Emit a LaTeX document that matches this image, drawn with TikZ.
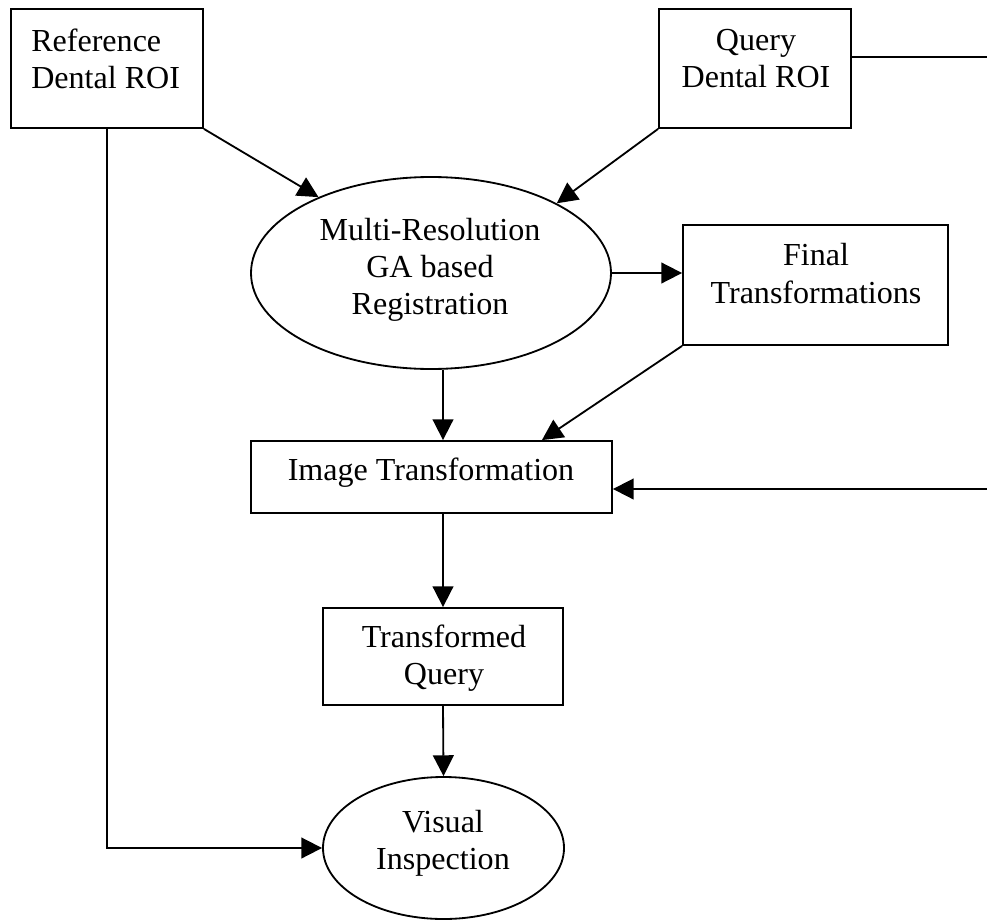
\documentclass[tikz,border=0pt]{standalone}
\usepackage{fontspec}
\setmainfont{Liberation Serif}
\usetikzlibrary{arrows.meta,shapes.geometric}
\begin{document}
\begin{tikzpicture}[x=0.025cm,y=-0.025cm,
  box/.style={draw,line width=1.3pt,inner sep=0pt},
  oval/.style={draw,ellipse,line width=1.3pt,inner sep=0pt},
  lbl/.style={inner sep=0pt,align=center,font=\fontsize{22.8}{26.4}\selectfont},
  conn/.style={line width=1.3pt},
  arr/.style={conn,-{Triangle[length=0.52cm,width=0.52cm]}}]
\useasboundingbox (0,0) rectangle (987,920);

% shapes
\node[box,minimum width=192*0.025cm,minimum height=119*0.025cm] (ref) at (107,68.5) {};
\node[box,minimum width=192*0.025cm,minimum height=119*0.025cm] (qry) at (755,68.5) {};
\node[oval,minimum width=360*0.025cm,minimum height=192*0.025cm] (ell) at (431,273) {};
\node[box,minimum width=265*0.025cm,minimum height=120*0.025cm] (fin) at (815.5,285) {};
\node[box,minimum width=361*0.025cm,minimum height=72*0.025cm] (it) at (431.5,477) {};
\node[box,minimum width=240*0.025cm,minimum height=97*0.025cm] (tq) at (443,656.5) {};
\node[oval,minimum width=241*0.025cm,minimum height=142*0.025cm] (vis) at (443.5,848) {};

% texts
\node[lbl,align=left,anchor=west] (reft) at (31,58.5) {Reference\\Dental ROI};
\node[lbl] (qryt) at (756,58.5) {Query\\Dental ROI};
\node[lbl] (ellt) at (430,270) {Multi-Resolution\\GA based\\Registration};
\node[lbl] (fint) at (816,273.5) {Final\\Transformations};
\node[lbl] (itt) at (431,473) {Image Transformation};
\node[lbl] (tqt) at (444,658) {Transformed\\Query};
\node[lbl] (vist) at (443,843) {Visual\\Inspection};

% connectors
\draw[arr] (ref.south east) -- (ell.146);
\draw[arr] (qry.south west) -- (ell.29);
\draw[arr] (ell.east) -- (ell.east -| fin.west);
\draw[arr] (fin.south west) -- ([xshift=2.76cm]it.north);
\coordinate (e1s) at ([xshift=0.3cm]ell.south);
\draw[arr] (e1s) -- (e1s |- it.north);
\draw[arr] (tq.north |- it.south) -- (tq.north);
\draw[arr] (tq.south) -- (vis.north);
\draw[arr] (ref.south) -- (ref.south |- vis.west) -- (vis.west);
\draw[arr] ([yshift=0.29cm]qry.east) -- ++(150,0) coordinate (qc) |- ([yshift=-0.3cm]it.east);
\end{tikzpicture}
\end{document}
